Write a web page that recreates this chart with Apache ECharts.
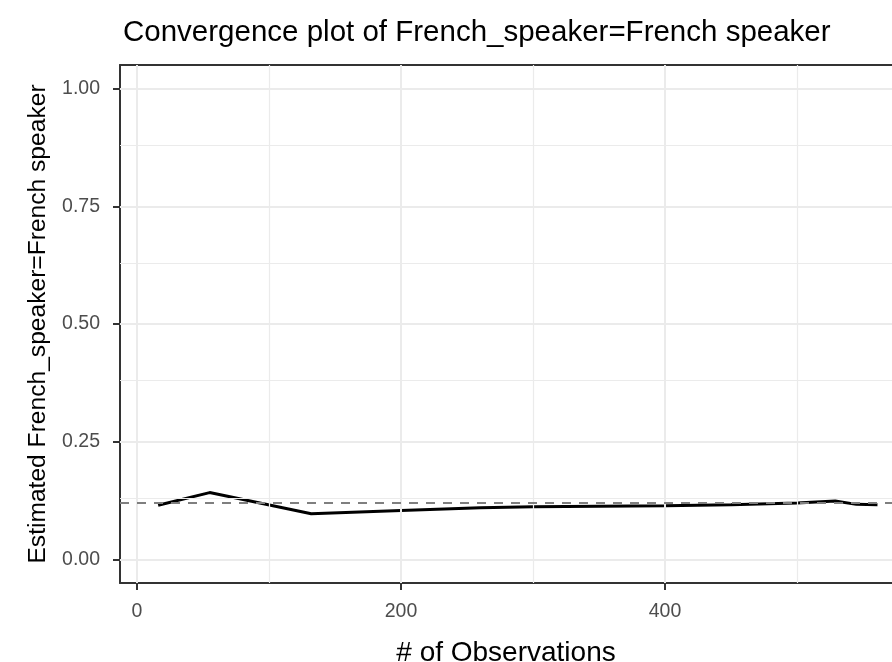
<!DOCTYPE html>
<html>
<head>
<meta charset="utf-8">
<script src="https://cdn.jsdelivr.net/npm/echarts@6/dist/echarts.min.js"></script>
<style>
html,body{margin:0;padding:0;background:#fff;}
#chart{width:892px;height:662px;}
</style>
</head>
<body>
<div id="chart"></div>
<script>
// Data
const observations = [16, 55, 132, 200, 260, 300, 400, 450, 500, 529, 545, 561];
const estimates = [0.115, 0.142, 0.097, 0.104, 0.110, 0.112, 0.114, 0.116, 0.120, 0.124, 0.117, 0.116];
const referenceValue = 0.117;
const xMajorTicks = [0, 200, 400];
const xMinorTicks = [100, 300, 500];
const yMajorTicks = [0, 0.25, 0.5, 0.75, 1.0];
const yMinorTicks = [0.125, 0.375, 0.625, 0.875];
const titleText = 'Convergence plot of French_speaker=French speaker';
const xTitle = '# of Observations';
const yTitle = 'Estimated French_speaker=French speaker';

const FONT = 'Liberation Sans';
const chart = echarts.init(document.getElementById('chart'));

const gridLines = [];
xMajorTicks.forEach(v => gridLines.push({xAxis: v, lineStyle: {width: 2, color: '#ebebeb', type: 'solid'}}));
xMinorTicks.forEach(v => gridLines.push({xAxis: v, lineStyle: {width: 1.2, color: '#ebebeb', type: 'solid'}}));
yMajorTicks.forEach(v => gridLines.push({yAxis: v, lineStyle: {width: 2, color: '#ebebeb', type: 'solid'}}));
yMinorTicks.forEach(v => gridLines.push({yAxis: v, lineStyle: {width: 1.2, color: '#ebebeb', type: 'solid'}}));

const lineData = observations.map((x, i) => [x, estimates[i]]);

chart.setOption({
  animation: false,
  backgroundColor: '#ffffff',
  title: {
    text: titleText,
    left: 118, top: 13,
    textStyle: {fontFamily: FONT, fontSize: 29.5, fontWeight: 'normal', color: '#000'}
  },
  grid: {left: 120, right: 0, top: 65, bottom: 79, containLabel: false, outerBoundsMode: 'none'},
  xAxis: [{
    type: 'value', min: -12.9, max: 572,
    name: xTitle, nameLocation: 'middle', nameGap: 56,
    nameTextStyle: {fontFamily: FONT, fontSize: 28, color: '#000'},
    axisLine: {show: true, onZero: false, lineStyle: {color: '#333333', width: 2}},
    axisTick: {show: true, customValues: xMajorTicks, length: 7, lineStyle: {color: '#333333', width: 2}},
    axisLabel: {show: true, customValues: xMajorTicks, margin: 19, fontFamily: FONT, fontSize: 19.5, color: '#4d4d4d'},
    splitLine: {show: false}
  }, {
    type: 'value', min: -12.9, max: 572, position: 'top',
    axisLine: {show: true, onZero: false, lineStyle: {color: '#333333', width: 2}},
    axisTick: {show: false}, axisLabel: {show: false}, splitLine: {show: false}
  }],
  yAxis: {
    type: 'value', min: -0.05, max: 1.05,
    name: yTitle, nameLocation: 'middle', nameGap: 68, nameRotate: 90,
    nameTextStyle: {fontFamily: FONT, fontSize: 24.6, color: '#000'},
    axisLine: {show: true, onZero: false, lineStyle: {color: '#333333', width: 2}},
    axisTick: {show: true, customValues: yMajorTicks, length: 7, lineStyle: {color: '#333333', width: 2}},
    axisLabel: {show: true, customValues: yMajorTicks, margin: 20, fontFamily: FONT, fontSize: 19.5, color: '#4d4d4d',
      formatter: v => v.toFixed(2)},
    splitLine: {show: false}
  },
  series: [{
    type: 'line', name: 'grid', z: 1, silent: true,
    data: [lineData[0]], symbol: 'none', lineStyle: {opacity: 0},
    markLine: {silent: true, symbol: ['none', 'none'], label: {show: false}, data: gridLines, animation: false}
  }, {
    type: 'line', name: 'estimate', z: 3,
    data: lineData, symbol: 'none',
    lineStyle: {color: '#000000', width: 3}
  }, {
    type: 'line', name: 'reference', z: 4, silent: true,
    data: [lineData[0]], symbol: 'none', lineStyle: {opacity: 0},
    markLine: {silent: true, symbol: ['none', 'none'], label: {show: false}, animation: false,
      data: [{yAxis: referenceValue, lineStyle: {color: '#7f7f7f', width: 2, type: [9, 8]}}]}
  }]
});
</script>
</body>
</html>
